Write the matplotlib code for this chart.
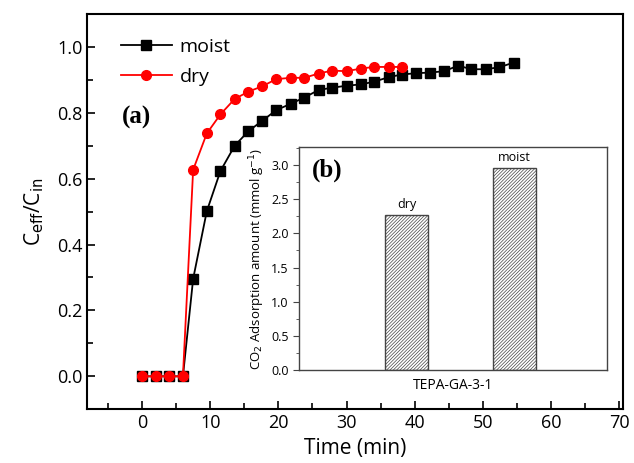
import matplotlib
matplotlib.use("Agg")
import matplotlib.pyplot as plt
from matplotlib.ticker import MultipleLocator
import matplotlib as mpl

plt.rcParams['font.family'] = ['Open Sans', 'DejaVu Sans']
mpl.rcParams['hatch.color'] = '#666666'
mpl.rcParams['hatch.linewidth'] = 0.5

# Breakthrough curves
t_moist = [0, 2, 4, 6, 7.5, 9.5, 11.5, 13.6, 15.6, 17.6, 19.7, 21.8, 23.8, 25.9,
           27.9, 30.0, 32.1, 34.0, 36.2, 38.1, 40.2, 42.3, 44.3, 46.4, 48.3,
           50.4, 52.4, 54.5]
c_moist = [0, 0, 0, 0, 0.296, 0.501, 0.623, 0.700, 0.744, 0.775, 0.808, 0.827,
           0.846, 0.869, 0.876, 0.882, 0.886, 0.894, 0.908, 0.916, 0.920, 0.922,
           0.926, 0.943, 0.932, 0.932, 0.938, 0.952]
t_dry = [0, 2, 4, 6, 7.5, 9.5, 11.5, 13.6, 15.6, 17.6, 19.7, 21.8, 23.8, 25.9,
         27.9, 30.0, 32.1, 34.0, 36.2, 38.1]
c_dry = [0, 0, 0, 0, 0.627, 0.737, 0.795, 0.842, 0.864, 0.880, 0.902, 0.906,
         0.906, 0.919, 0.928, 0.926, 0.934, 0.939, 0.939, 0.939]

# Adsorption capacity
bar_labels = ['dry', 'moist']
bar_values = [2.27, 2.96]
sample_name = 'TEPA-GA-3-1'

fig = plt.figure(figsize=(6.34, 4.63), dpi=100)
ax = fig.add_axes([0.138, 0.116, 0.844, 0.854])

ax.plot(t_moist, c_moist, color='black', marker='s', markersize=6.5, lw=1.3,
        label='moist', zorder=3)
ax.plot(t_dry, c_dry, color='red', marker='o', markersize=7, lw=1.3,
        label='dry', zorder=4)

ax.set_xlim(-8, 70.5)
ax.set_ylim(-0.1, 1.1)
ax.xaxis.set_major_locator(MultipleLocator(10))
ax.xaxis.set_minor_locator(MultipleLocator(5))
ax.yaxis.set_major_locator(MultipleLocator(0.2))
ax.yaxis.set_minor_locator(MultipleLocator(0.1))
ax.set_xticks(range(0, 71, 10))
ax.tick_params(which='both', direction='in', top=False, right=False, labelsize=13)
ax.tick_params(which='major', length=6, width=1.2)
ax.tick_params(which='minor', length=4, width=1.2)
for s in ax.spines.values():
    s.set_linewidth(1.5)
ax.set_xlabel('Time (min)', fontsize=15, labelpad=4)
ax.set_ylabel(r'C$_{\mathrm{eff}}$/C$_{\mathrm{in}}$', fontsize=15, labelpad=8)

ax.legend(loc='upper left', bbox_to_anchor=(0.03, 0.983), frameon=False,
          fontsize=14, handlelength=2.6, handletextpad=0.4, labelspacing=0.6,
          borderaxespad=0.5)
ax.text(0.065, 0.739, '(a)', transform=ax.transAxes, fontsize=18,
        fontweight='bold', family='Liberation Serif', va='center')

# Inset bar chart
ins = fig.add_axes([299.3 / 634, 1 - 370 / 463, 307.4 / 634, 222.7 / 463])
ins.bar([1, 2], bar_values, width=0.4, color='white', edgecolor='#444444',
        hatch='//////////', linewidth=1.0)
for x, v, lab in zip([1, 2], bar_values, bar_labels):
    ins.text(x, v + 0.06, lab, ha='center', va='bottom', fontsize=9)
ins.set_xlim(0, 2.86)
ins.set_ylim(0, 3.26)
ins.set_xticks([])
ins.yaxis.set_major_locator(MultipleLocator(0.5))
ins.yaxis.set_minor_locator(MultipleLocator(0.25))
ins.tick_params(which='both', direction='out', labelsize=9, color='#444444')
ins.tick_params(which='major', length=4)
ins.tick_params(which='minor', length=2.5)
for s in ins.spines.values():
    s.set_color('#444444')
    s.set_linewidth(1.0)
ins.set_xlabel(sample_name, fontsize=10, labelpad=6)
ins.set_ylabel(r'CO$_2$ Adsorption amount (mmol g$^{-1}$)', fontsize=9.5, labelpad=3)
ins.text(0.04, 0.895, '(b)', transform=ins.transAxes, fontsize=18,
         fontweight='bold', family='Liberation Serif', va='center')

fig.savefig('out.png', dpi=100)
